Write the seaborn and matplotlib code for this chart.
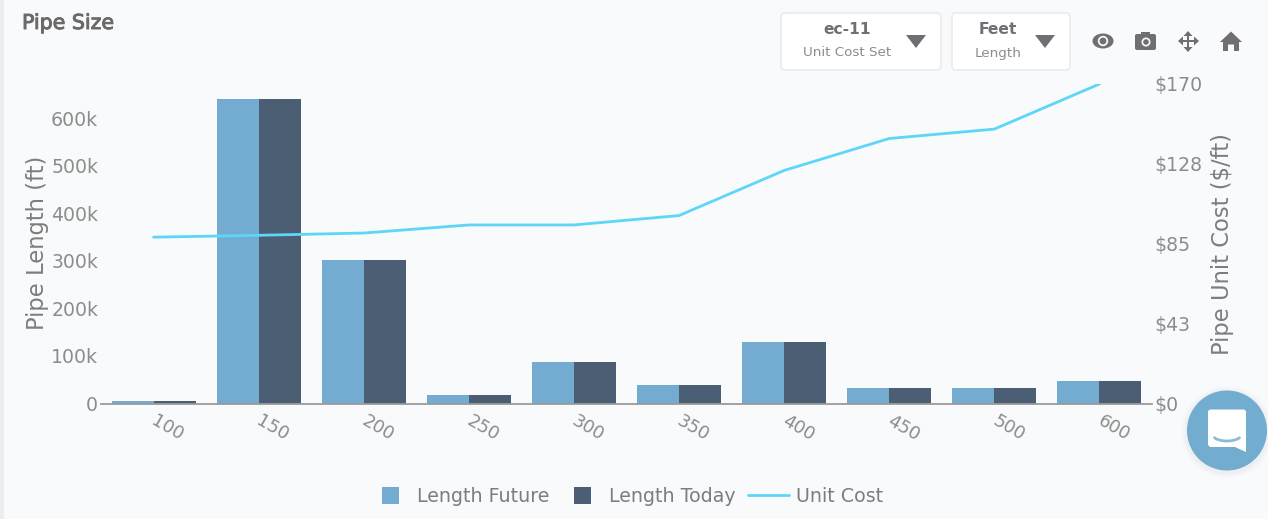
import numpy as np
import pandas as pd
import matplotlib
matplotlib.use("Agg")
import matplotlib.pyplot as plt
import matplotlib.patheffects as pe
from matplotlib.patches import FancyBboxPatch, Polygon, Circle, Rectangle, Ellipse
from matplotlib.ticker import FuncFormatter
from matplotlib.transforms import ScaledTranslation
import seaborn as sns

sizes = ["100", "150", "200", "250", "300", "350", "400", "450", "500", "600"]
length_future = [6000, 640000, 301000, 17000, 88000, 38000, 129000, 33000, 33000, 47000]
length_today = [6000, 640000, 301000, 17000, 88000, 38000, 129000, 33000, 33000, 47000]
unit_cost = [88.5, 89.5, 90.7, 95, 95, 100, 124, 141, 146, 170]
left_ticks = [0, 100000, 200000, 300000, 400000, 500000, 600000]
right_ticks = [0, 42.5, 85, 127.5, 170]
right_labels = ["$0", "$43", "$85", "$128", "$170"]

BG = "#f9fafc"
TXT = "#8c8c8c"
LBL = "#7d7d7d"
ICON = "#6e6e73"
C_FUT = "#74acd1"
C_TOD = "#4b5e74"
C_LINE = "#5dd6f8"

sns.set_theme(style="white")
plt.rcParams["font.family"] = ["DejaVu Sans"]

W, H = 1268, 519
fig = plt.figure(figsize=(W / 100, H / 100), dpi=100, facecolor=BG)

L, R, T, B = 101, 1152, 84, 403.5
ax = fig.add_axes([L / W, 1 - B / H, (R - L) / W, (B - T) / H], facecolor="none")

df = pd.DataFrame({
    "size": sizes * 2,
    "length": length_future + length_today,
    "series": ["Length Future"] * len(sizes) + ["Length Today"] * len(sizes),
})
sns.barplot(data=df, x="size", y="length", hue="series", ax=ax, palette=[C_FUT, C_TOD],
            width=0.8, gap=0, saturation=1, legend=False, linewidth=0, edgecolor="none")
ax.set_xlim(-0.5, 9.5)
ax.set_ylim(0, 672000)
ax.set_yticks(left_ticks)
ax.yaxis.set_major_formatter(FuncFormatter(lambda v, p: "0" if v == 0 else f"{int(v/1000)}k"))
ax.tick_params(axis="y", length=0, pad=2, labelsize=13.6, labelcolor=TXT)
ax.tick_params(axis="x", length=0, pad=6, labelsize=13, labelcolor=TXT)
offset = ScaledTranslation(14 / 100, 0, fig.dpi_scale_trans)
for t in ax.get_xticklabels():
    t.set_rotation(-30)
    t.set_ha("center")
    t.set_transform(t.get_transform() + offset)
ax.set_xlabel("")
ax.set_ylabel("")
for s in ["top", "right", "left"]:
    ax.spines[s].set_visible(False)
ax.spines["bottom"].set_color("#9a9a9a")
ax.spines["bottom"].set_linewidth(1.3)

ax2 = ax.twinx()
sns.lineplot(x=sizes, y=unit_cost, ax=ax2, color=C_LINE, linewidth=2.0, sort=False, legend=False)
ax2.set_ylim(0, 170)
ax2.set_yticks(right_ticks)
ax2.set_yticklabels(right_labels)
ax2.tick_params(axis="y", length=0, pad=2, labelsize=13.6, labelcolor=TXT)
ax2.set_ylabel("")
for s in ax2.spines.values():
    s.set_visible(False)

# overlay in pixel coordinates for page furniture
ov = fig.add_axes([0, 0, 1, 1], facecolor="none")
ov.set_xlim(0, W)
ov.set_ylim(H, 0)
ov.axis("off")
ov.add_patch(Rectangle((0, 0), 4, H, color="#e9edf1", lw=0))

ov.text(22, 23, "Pipe Size", fontsize=14.8, color="#6a6a6a", va="center", ha="left",
        path_effects=[pe.withStroke(linewidth=0.7, foreground="#6a6a6a")])
ov.text(38, 243, "Pipe Length (ft)", fontsize=16.3, color=LBL, rotation=90, va="center", ha="center")
ov.text(1222, 244, "Pipe Unit Cost ($/ft)", fontsize=16.3, color=LBL, rotation=90, va="center", ha="center")

# selector boxes
for x0, x1, head, sub, cx, tri in [(781, 941, "ec-11", "Unit Cost Set", 847, 916),
                                   (952, 1070, "Feet", "Length", 998, 1045)]:
    ov.add_patch(FancyBboxPatch((x0 + 3, 16), x1 - x0 - 6, 51, boxstyle="round,pad=3,rounding_size=4",
                                fc="white", ec="#e9ebee", lw=1.2))
    ov.text(cx, 30, head, fontsize=11.2, color="#6f6f75", weight="bold", ha="center", va="center")
    ov.text(cx, 53, sub, fontsize=9.7, color=TXT, ha="center", va="center")
    ov.add_patch(Polygon([(tri - 10, 35), (tri + 10, 35), (tri, 48)], closed=True, fc=ICON, lw=0))

# eye icon
ov.add_patch(Ellipse((1103, 41), 21, 15, fc=ICON, lw=0))
ov.add_patch(Circle((1103, 41), 5.2, fc=BG, lw=0))
ov.add_patch(Circle((1103, 41), 3.4, fc=ICON, lw=0))
# camera icon
ov.add_patch(FancyBboxPatch((1136, 35), 19, 14, boxstyle="round,pad=1,rounding_size=2", fc=ICON, lw=0))
ov.add_patch(Rectangle((1141, 32), 9, 4, fc=ICON, lw=0))
ov.add_patch(Circle((1146, 42), 4.5, fc=BG, lw=0))
ov.add_patch(Circle((1146, 42), 2.8, fc=ICON, lw=0))
# move icon
ov.add_patch(Rectangle((1179, 39.7), 19, 2.8, fc=ICON, lw=0))
ov.add_patch(Rectangle((1186.6, 32), 2.8, 19, fc=ICON, lw=0))
for pts in ([(1178, 41), (1183, 36.5), (1183, 45.5)], [(1199, 41), (1194, 36.5), (1194, 45.5)],
            [(1188, 31), (1183.5, 36), (1192.5, 36)], [(1188, 52), (1183.5, 47), (1192.5, 47)]):
    ov.add_patch(Polygon(pts, closed=True, fc=ICON, lw=0))
# home icon
ov.add_patch(Polygon([(1220, 42), (1231, 31.5), (1242, 42), (1239, 42), (1239, 51), (1234, 51), (1234, 44.5),
                      (1228, 44.5), (1228, 51), (1223, 51), (1223, 42)], closed=True, fc=ICON, lw=0))

# chat button
for r, a in [(46, 0.025), (44, 0.03), (42, 0.04)]:
    ov.add_patch(Circle((1227, 432), r, fc="#8090a0", alpha=a, lw=0))
ov.add_patch(Circle((1227, 430.5), 40, fc="#72accf", lw=0))
ov.add_patch(Polygon([(1208, 411), (1210, 409.5), (1244, 409.5), (1246, 411), (1246, 452), (1235, 447),
                      (1210, 447), (1208, 445)], closed=True, fc="white", lw=0))
t = np.linspace(0.15, 0.85, 30) * np.pi
ov.plot(1227 + 14 * np.cos(t), 435 + 6 * np.sin(t), color="#8dbcd8", lw=2.0, solid_capstyle="round")

# legend row
ov.add_patch(Rectangle((382, 487), 17, 17, fc=C_FUT, lw=0))
ov.add_patch(Rectangle((574, 487), 17, 17, fc=C_TOD, lw=0))
ov.plot([748, 789], [495, 495], color=C_LINE, lw=2.0)
for x, s in [(417, "Length Future"), (609, "Length Today"), (796, "Unit Cost")]:
    ov.text(x, 497, s, fontsize=13.7, color=LBL, ha="left", va="center")

fig.savefig("out.png", dpi=100, facecolor=BG)
